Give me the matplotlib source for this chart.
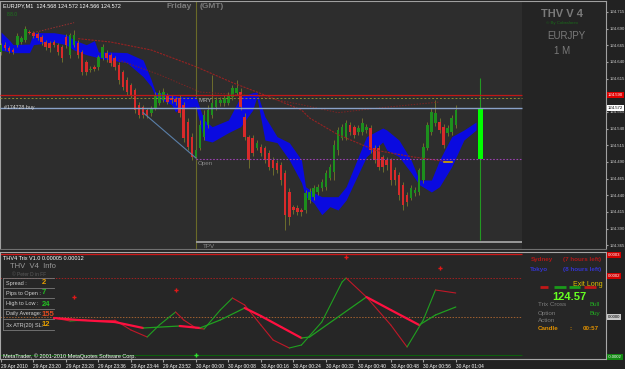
import matplotlib
matplotlib.use('Agg')
import matplotlib.pyplot as plt
import numpy as np
from matplotlib.collections import LineCollection

plt.rcParams['font.family'] = ['Liberation Sans', 'DejaVu Sans']

W, H = 625, 369

# ---------------- data (prices in points above 124.000) ----------------
open_pts = [655, 666, 661, 658, 666, 670, 673, 685, 684, 682,
            678, 670, 669, 670, 666, 663, 678, 651, 666, 669,
            655, 640, 628, 633, 633, 646, 654, 651, 646, 636,
            625, 613, 606, 598, 576, 573, 568, 564, 571, 579,
            583, 591, 586, 585, 586, 576, 550, 528, 498, 511,
            528, 546, 561, 573, 579, 579, 579, 588, 594, 595,
            558, 528, 526, 511, 513, 511, 504, 493, 489, 486,
            474, 445, 423, 421, 418, 418, 433, 438, 445, 451,
            453, 466, 475, 508, 526, 528, 546, 543, 535, 535,
            538, 541, 511, 511, 498, 493, 493, 478, 471, 456,
            441, 436, 444, 445, 463, 511, 535, 549, 550, 543,
            534, 535, 546]
close_pts = [666, 661, 657, 655, 679, 676, 690, 684, 679, 676,
             670, 663, 661, 666, 655, 646, 666, 681, 681, 651,
             625, 625, 630, 630, 648, 663, 646, 639, 633, 613,
             603, 595, 591, 568, 561, 561, 561, 571, 591, 594,
             595, 580, 583, 580, 564, 526, 513, 498, 508, 546,
             561, 568, 579, 583, 583, 586, 591, 601, 601, 573,
             528, 493, 504, 519, 504, 493, 483, 481, 478, 463,
             411, 408, 418, 415, 415, 444, 445, 451, 453, 460,
             474, 483, 516, 538, 543, 549, 535, 531, 541, 549,
             543, 508, 493, 483, 483, 486, 463, 463, 441, 426,
             430, 451, 448, 478, 513, 546, 565, 564, 538, 516,
             541, 556, 568]
high_pts = [669, 670, 664, 661, 684, 679, 694, 688, 687, 685,
            681, 673, 672, 673, 669, 666, 682, 684, 688, 673,
            658, 643, 634, 636, 651, 667, 658, 654, 649, 640,
            628, 618, 609, 601, 580, 576, 571, 574, 595, 598,
            601, 594, 591, 588, 591, 580, 556, 534, 511, 553,
            568, 576, 621, 588, 588, 591, 595, 606, 613, 601,
            564, 531, 531, 523, 517, 514, 508, 498, 493, 490,
            478, 451, 426, 426, 421, 448, 451, 456, 457, 465,
            478, 487, 523, 543, 547, 553, 550, 546, 546, 556,
            547, 546, 516, 516, 501, 498, 496, 483, 475, 460,
            445, 456, 453, 481, 519, 550, 571, 583, 556, 547,
            546, 561, 576]
low_pts = [651, 658, 654, 652, 663, 667, 670, 682, 676, 673,
           666, 658, 655, 663, 651, 640, 661, 646, 663, 646,
           621, 621, 625, 627, 628, 643, 640, 634, 628, 607,
           598, 591, 586, 564, 556, 556, 556, 559, 568, 576,
           580, 577, 579, 576, 558, 520, 508, 493, 493, 508,
           523, 541, 556, 568, 574, 574, 576, 583, 591, 568,
           523, 481, 499, 508, 499, 489, 478, 471, 474, 456,
           388, 396, 412, 411, 409, 414, 429, 433, 441, 447,
           448, 463, 463, 501, 523, 523, 531, 526, 531, 531,
           534, 504, 489, 478, 475, 478, 456, 456, 433, 418,
           424, 433, 439, 441, 459, 508, 531, 544, 534, 511,
           529, 531, 541]

opens = 124 + np.array(open_pts) / 1000
closes = 124 + np.array(close_pts) / 1000
highs = 124 + np.array(high_pts) / 1000
lows = 124 + np.array(low_pts) / 1000
bars = np.arange(len(opens))

# current candle box (bar 118)
cur_bar = 118
cur_open, cur_close, cur_high, cur_low = 124.494, 124.571, 124.616, 124.373

# blue band
band_idx = [0, 2, 3, 7, 8, 13, 16, 18, 21, 23, 24, 27, 31, 35, 37, 38, 42, 43, 44, 48,
            50, 52, 56, 59, 62, 63, 65, 68, 71, 74, 75, 77, 79, 81, 83, 85, 90, 94, 95, 98,
            101, 103, 106, 108, 111, 114, 117]
band_hi_pts = [685, 673, 666, 667, 684, 684, 681, 673, 666, 672, 655, 655, 654, 643, 613, 595,
               591, 589, 588, 588, 553, 543, 553, 588, 594, 595, 558, 528, 519, 493, 453, 444,
               438, 438, 438, 453, 528, 541, 538, 523, 493, 463, 463, 493, 528, 538, 550]
band_lo_pts = [658, 655, 654, 654, 666, 670, 666, 658, 651, 648, 646, 643, 639, 618, 603, 588,
               576, 565, 571, 573, 523, 520, 534, 543, 568, 588, 523, 519, 493, 459, 438, 429,
               411, 423, 418, 433, 498, 520, 508, 498, 474, 456, 445, 453, 483, 523, 538]

# moving average lines
ma_idx = [19, 27, 37, 48, 57, 66, 74, 76, 83, 92, 101, 108, 111]
ma_pts = [675, 670, 658, 633, 609, 588, 568, 556, 531, 508, 498, 492, 490]
ma2_idx = [29, 39, 49, 63, 74, 83, 93, 108]
ma2_pts = [643, 621, 595, 589, 576, 564, 571, 580]
trend_idx = [8, 18]
trend_pts = [684, 699]
diag_idx = [35, 48]
diag_pts = [564, 496]

# horizontal levels
red_level = 124.5905
olive_level = 124.586
buy_level = 124.5715
open_level = 124.4945
tpv_level = 124.370

price_ticks = np.round(np.arange(124.365, 124.7151, 0.025), 3)

# Trix sub window (values in 1e-6)
fast_idx = [13, 17, 21, 24, 28, 32, 36, 39, 43, 45, 48, 50, 54, 57, 60, 64, 67, 71, 74, 79,
            84, 85, 90, 96, 100, 104, 107, 112]
fast_val = [-5, -20, -15, -15, -15, -65, -100, -40, 25, -15, -55, -60, 35, 95, 60, -40, -115,
            -155, -140, -25, 175, 195, 100, -40, -150, -15, 135, 120]
slow_idx = [13, 19, 28, 35, 44, 49, 54, 60, 64, 69, 74, 76, 90, 96, 103, 107, 112]
slow_val = [-5, -15, -25, -55, -45, -55, -15, 45, 5, -50, -105, -100, 100, 35, -40, 10, 50]
sell_idx, sell_val = [18, 43, 85, 108], [100, 135, 300, 245]
buy_idx, buy_val = [48], [-190]

time_ticks = list(range(0, 113, 8))
time_labels = ['29 Apr 2010', '29 Apr 23:20', '29 Apr 23:28', '29 Apr 23:36', '29 Apr 23:44',
               '29 Apr 23:52', '30 Apr 00:00', '30 Apr 00:08', '30 Apr 00:16', '30 Apr 00:24',
               '30 Apr 00:32', '30 Apr 00:40', '30 Apr 00:48', '30 Apr 00:56', '30 Apr 01:04']

info_labels = ['Spread :', 'Pips to Open :', 'High to Low :', 'Daily Average:', '3x ATR(20) SL:']
info_values = ['2', '7', '24', '155', '12']
info_colors = ['#e8a000', '#22c022', '#22c022', '#e04a20', '#e8a000']


def box(x0, y0, x1, y1):
    return [x0 / W, 1 - y1 / H, (x1 - x0) / W, (y1 - y0) / H]


fig = plt.figure(figsize=(6.25, 3.69), dpi=100, facecolor='#222222')

# ---------------- main price window ----------------
ax = fig.add_axes(box(0, 1, 606, 249))
ax.set_facecolor('#2d2d2d')
ax.set_xlim(-0.25, 149)
ax.set_ylim(124.3595, 124.7315)
ax.axvspan(128.3, 149, color='#242424', lw=0, zorder=0)

ax.axvline(48, color='#6a6a28', lw=0.8, zorder=1)

ax.fill_between(band_idx, 124 + np.array(band_lo_pts) / 1000, 124 + np.array(band_hi_pts) / 1000,
                color='#0a0ae0', lw=0, zorder=2)

up = closes >= opens
ax.vlines(bars, lows, highs, color='#6e6e2c', lw=0.7, zorder=3)
ax.bar(bars[up], (closes - opens)[up], bottom=opens[up], width=0.62, color='#1d8f1d', lw=0, zorder=4)
ax.bar(bars[~up], (closes - opens)[~up], bottom=opens[~up], width=0.62, color='#d82a2a', lw=0, zorder=4)

ax.vlines(cur_bar, cur_low, cur_high, color='#229922', lw=0.8, zorder=3)
ax.bar(cur_bar, cur_close - cur_open, bottom=cur_open, width=1.2, color='#00ff00', lw=0, zorder=4)

ax.plot(ma_idx, 124 + np.array(ma_pts) / 1000, color='#962222', lw=0.8, ls=(0, (2, 1)), zorder=5)
ax.plot(ma2_idx, 124 + np.array(ma2_pts) / 1000, color='#7c2424', lw=0.7, ls=(0, (1.5, 1.5)), zorder=5)
ax.plot(trend_idx, 124 + np.array(trend_pts) / 1000, color='#9c3030', lw=0.7, ls=(0, (1.5, 1.5)), zorder=5)
ax.plot(diag_idx, 124 + np.array(diag_pts) / 1000, color='#5a7fa8', lw=0.8, zorder=5)
ax.plot([109, 111], [124.490, 124.490], color='#d0a800', lw=1.2, zorder=6)

ax.hlines(red_level, -0.25, 128.3, color='#c01818', lw=0.9, zorder=5)
ax.hlines(olive_level, -0.25, 128.3, color='#8a8a32', lw=0.7, ls=(0, (2, 2)), zorder=5)
ax.hlines(buy_level, -0.25, 128.3, color='#8aa2c8', lw=1.0, zorder=5)
ax.hlines(open_level, 48, 128.3, color='#9a40b0', lw=0.8, ls=(0, (1.5, 1.5)), zorder=5)
ax.hlines(tpv_level, 48, 128.3, color='#9a9a9a', lw=1.4, zorder=5)

ax.set_xticks([])
ax.yaxis.tick_right()
ax.set_yticks(price_ticks)
ax.set_yticklabels(['' if abs(p - 124.590) < 1e-6 else '%.3f' % p for p in price_ticks])
ax.tick_params(axis='y', colors='#a0a0a0', labelcolor='#d0d0d0', labelsize=3.1, length=1.5, pad=0.8)
for s in ['left', 'top', 'right']:
    ax.spines[s].set_color('#a0a0a0')
    ax.spines[s].set_linewidth(0.8)
ax.spines['bottom'].set_color('#707070')

tr = ax.get_yaxis_transform()
ax.text(1.003, red_level, '124.590', transform=tr, fontsize=3.1, color='white', va='center',
        bbox=dict(boxstyle='square,pad=0.2', fc='#e00000', ec='none'), zorder=10, clip_on=False)
ax.text(1.003, buy_level, '124.572', transform=tr, fontsize=3.1, color='black', va='center',
        bbox=dict(boxstyle='square,pad=0.2', fc='white', ec='none'), zorder=10, clip_on=False)

# ---------------- Trix sub window ----------------
sub = fig.add_axes(box(0, 252, 606, 359))
sub.set_facecolor('#262626')
sub.set_xlim(-0.25, 149)
sub.set_ylim(-210e-6, 325e-6)

sub.hlines(315e-6, -0.25, 128.3, color='#d01818', lw=0.9)
sub.hlines(195e-6, -0.25, 128.3, color='#a02020', lw=0.7, ls=(0, (1.5, 1.5)))
sub.hlines(0, -0.25, 128.3, color='#a06030', lw=0.7, ls=(0, (1.5, 1.5)))
sub.hlines(-190e-6, -0.25, 128.3, color='#0e5e0e', lw=0.8)


def trix_line(idx, vals, lw_up, lw_dn, red):
    v = np.array(vals) * 1e-6
    pts = np.column_stack([idx, v])
    segs = np.stack([pts[:-1], pts[1:]], axis=1)
    rising = np.diff(v) > 0
    cols = ['#20a020' if r else red for r in rising]
    lws = [lw_up if r else lw_dn for r in rising]
    sub.add_collection(LineCollection(segs, colors=cols, linewidths=lws, zorder=3,
                                      capstyle='round', joinstyle='round'))


trix_line(fast_idx, fast_val, 0.8, 0.8, '#c01828')
trix_line(slow_idx, slow_val, 0.9, 1.6, '#ff1040')

sub.plot(sell_idx, np.array(sell_val) * 1e-6, ls='none', marker='P', ms=3, color='#e01818', mew=0)
sub.plot(buy_idx, np.array(buy_val) * 1e-6, ls='none', marker='P', ms=3, color='#30e030', mew=0)

sub.set_yticks([])
sub.set_xticks(time_ticks)
sub.set_xticklabels(time_labels)
for lab in sub.get_xticklabels():
    lab.set_ha('left')
sub.tick_params(axis='x', colors='#a0a0a0', labelcolor='white', labelsize=3.5, length=2, pad=1.5)
for s in ['left', 'top', 'right', 'bottom']:
    sub.spines[s].set_color('#a8a8a8')
    sub.spines[s].set_linewidth(0.8)

# ---------------- overlay texts (pixel coordinates) ----------------
ov = fig.add_axes([0, 0, 1, 1])
ov.set_xlim(0, W)
ov.set_ylim(H, 0)
ov.axis('off')


def t(x, y, s, c, fs=4, **kw):
    ov.text(x, y, s, color=c, fontsize=fs, va='center', **kw)


t(3, 6, 'EURJPY,M1  124.568 124.572 124.566 124.572', 'white', 4)
t(7, 14, '8.8.0', '#1c7a1c', 3.5)
t(192, 7, 'Friday', '#7c7c7c', 6, ha='right', fontweight='bold')
t(200, 7, '(GMT)', '#7c7c7c', 6, fontweight='bold')
t(4, 107, '#174728 buy', '#d8d8d8', 3.8)
t(199, 101, 'MRY', '#8a8a8a', 4.5, fontweight='bold')
t(198, 163, 'Open', '#8a8a8a', 4.5)
t(203, 246, 'TPV', '#8a8a8a', 4.5)

t(562, 14, 'THV V 4', '#7a7a7a', 8, ha='center', fontweight='bold')
t(562, 23, '\u00a9 By Cobraforex', '#1a6a1a', 3.2, ha='center')
t(566, 36, 'EURJPY', '#7a7a7a', 7, ha='center')
t(562, 51, '1 M', '#7a7a7a', 7, ha='center')

t(3, 258, 'THV4 Trix V1.0 0.00005 0.00012', 'white', 4)
t(10, 267, 'THV  V4  Info', '#9a9a9a', 5.5)
t(12, 274, '\u00a9 Peter D in FF', '#5a5a5a', 3.5)
row_y = [283, 293, 304, 314, 325]
for i, (lab, val, col) in enumerate(zip(info_labels, info_values, info_colors)):
    t(6, row_y[i], lab, '#d0d0d0', 4)
    t(42, row_y[i], val, col, 5.5, fontweight='bold')
    ov.plot([3, 54], [row_y[i] + 5, row_y[i] + 5], color='#7a7a7a', lw=0.6)
ov.plot([3, 54], [278, 278], color='#7a7a7a', lw=0.6)
ov.plot([3, 3], [278, 330], color='#7a7a7a', lw=0.6)
t(3, 356, 'MetaTrader, \u00a9 2001-2010 MetaQuotes Software Corp.', 'white', 4)

t(531, 259, 'Sydney', '#b01818', 4.5, fontweight='bold')
t(563, 259, '(7 hours left)', '#b01818', 4.5, fontweight='bold')
t(530, 269, 'Tokyo', '#3434d0', 4.5, fontweight='bold')
t(563, 269, '(8 hours left)', '#3434d0', 4.5, fontweight='bold')
for x0, x1, c in [(540, 548, '#c01818'), (554, 566, '#1a9a1a'), (569, 580, '#1a9a1a'), (584, 596, '#c01818')]:
    ov.plot([x0, x1], [287, 287], color=c, lw=2, solid_capstyle='butt')
t(573, 284, 'Exit Long', '#e0c000', 5)
t(569, 297, '124.57', '#66ff22', 8, ha='center', fontweight='bold')
t(538, 305, 'Trix Cross', '#7c7c7c', 4.5)
t(589, 305, 'Bull', '#22b022', 4.5)
t(538, 313, 'Option', '#7c7c7c', 4.5)
t(589, 313, 'Buy', '#22b022', 4.5)
t(538, 320, 'Action', '#7c7c7c', 4.5)
t(538, 329, 'Candle', '#e09000', 4.5, fontweight='bold')
t(569, 329, ':', '#e09000', 4.5, fontweight='bold')
t(583, 329, '00:57', '#e09000', 4.5, fontweight='bold')

for y, s, fc, tc in [(255, '0.0003', '#d00000', 'white'), (276, '0.0002', '#d00000', 'white'),
                     (317, '0.0000', '#c8c8c8', 'black'), (357, '-0.0002', '#118811', 'white')]:
    ov.text(608, y, s, color=tc, fontsize=3.1, va='center',
            bbox=dict(boxstyle='square,pad=0.15', fc=fc, ec='none'))

fig.savefig('out.png', dpi=100, facecolor=fig.get_facecolor())
